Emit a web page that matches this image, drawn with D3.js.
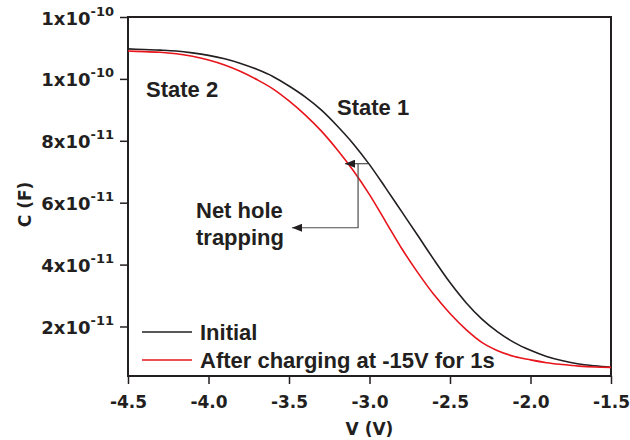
<!DOCTYPE html>
<html>
<head>
<meta charset="utf-8">
<script src="https://cdn.jsdelivr.net/npm/d3@7"></script>
<style>
  body { margin: 0; background: #fff; }
  svg text { font-family: "Liberation Sans", Arial, sans-serif; font-weight: bold; fill: #231f20; }
  svg text.axisText { font-family: "DejaVu Sans", sans-serif; }
</style>
</head>
<body>
<div id="chart"></div>
<script>
// values
var voltage = [-4.5, -4.4, -4.3, -4.2, -4.1, -4.0, -3.9, -3.8, -3.7, -3.6, -3.5,
               -3.4, -3.3, -3.2, -3.1, -3.0, -2.9, -2.8, -2.7, -2.6, -2.5,
               -2.4, -2.3, -2.2, -2.1, -2.0, -1.9, -1.8, -1.7, -1.6, -1.5];

var capInitial = [10.97e-11, 10.95e-11, 10.93e-11, 10.90e-11, 10.84e-11, 10.76e-11, 10.65e-11, 10.50e-11, 10.31e-11, 10.08e-11, 9.77e-11,
                  9.42e-11, 9.00e-11, 8.48e-11, 7.90e-11, 7.23e-11, 6.48e-11, 5.71e-11, 4.94e-11, 4.16e-11, 3.42e-11,
                  2.77e-11, 2.23e-11, 1.81e-11, 1.48e-11, 1.23e-11, 1.03e-11, 0.89e-11, 0.79e-11, 0.73e-11, 0.68e-11];

var capCharged = [10.90e-11, 10.88e-11, 10.86e-11, 10.81e-11, 10.73e-11, 10.61e-11, 10.45e-11, 10.24e-11, 9.98e-11, 9.68e-11, 9.29e-11,
                  8.84e-11, 8.32e-11, 7.71e-11, 7.03e-11, 6.26e-11, 5.39e-11, 4.52e-11, 3.74e-11, 3.03e-11, 2.42e-11,
                  1.90e-11, 1.48e-11, 1.21e-11, 1.03e-11, 0.92e-11, 0.83e-11, 0.77e-11, 0.72e-11, 0.69e-11, 0.68e-11];

var seriesNames = ["Initial", "After charging at -15V for 1s"];
var seriesColors = ["#231f20", "#e8141b"];

var xTickValues = [-4.5, -4.0, -3.5, -3.0, -2.5, -2.0, -1.5];
var yTickValues = [2e-11, 4e-11, 6e-11, 8e-11, 10e-11, 12e-11];
var yTickMantissa = ["2", "4", "6", "8", "1", "1"];
var yTickExponent = ["-11", "-11", "-11", "-11", "-10", "-10"];

// arrow annotation (V, C)
var shiftArrow = [[-3.009, 7.26e-11], [-3.152, 7.26e-11]];
var pointerLine = [[-3.071, 7.26e-11], [-3.071, 5.19e-11], [-3.481, 5.19e-11]];

var margin = {top: 17, right: 19, bottom: 64, left: 128},
    width = 630 - margin.left - margin.right,
    height = 440 - margin.top - margin.bottom;

var svg = d3.select("#chart").append("svg")
    .attr("width", width + margin.left + margin.right)
    .attr("height", height + margin.top + margin.bottom);

svg.append("defs").append("marker")
    .attr("id", "arrowHead")
    .attr("markerUnits", "userSpaceOnUse")
    .attr("markerWidth", 10)
    .attr("markerHeight", 8)
    .attr("refX", 10)
    .attr("refY", 4)
    .attr("orient", "auto")
  .append("path")
    .attr("d", "M0,0 L10,4 L0,8 Z")
    .attr("fill", "#231f20");

var g = svg.append("g")
    .attr("transform", "translate(" + margin.left + "," + margin.top + ")");

var x = d3.scaleLinear().domain([-4.5, -1.5]).range([0, width]);
var y = d3.scaleLinear().domain([0.4e-11, 12e-11]).range([height, 0]);

// axes
var xAxis = g.append("g")
    .attr("transform", "translate(0," + height + ")")
    .call(d3.axisBottom(x).tickValues(xTickValues).tickSize(8).tickSizeOuter(0)
      .tickFormat(function (d) { return d.toFixed(1); }));
xAxis.selectAll("text")
    .attr("class", "axisText")
    .attr("y", 32).attr("dy", 0)
    .style("font-size", "17px");

var yAxis = g.append("g")
    .call(d3.axisLeft(y).tickValues(yTickValues).tickSize(8).tickSizeOuter(0));
yAxis.selectAll(".tick text").each(function (d, i) {
  var t = d3.select(this).text(null)
      .attr("class", "axisText")
      .attr("x", -14).attr("dy", 0).attr("y", 7)
      .style("font-size", "18px");
  t.append("tspan").text(yTickMantissa[i] + "x10");
  t.append("tspan").text(yTickExponent[i])
      .attr("dy", -9)
      .style("font-size", "13px");
});

svg.selectAll(".domain").remove();
svg.selectAll(".tick line").attr("stroke", "#231f20").attr("stroke-width", 1.5);

// frame
g.append("rect")
    .attr("width", width).attr("height", height)
    .attr("fill", "none")
    .attr("stroke", "#231f20")
    .attr("stroke-width", 2);

// axis titles
svg.append("text")
    .attr("class", "axisText")
    .attr("x", margin.left + width / 2)
    .attr("y", 435)
    .attr("text-anchor", "middle")
    .style("font-size", "17px")
    .text("V (V)");

svg.append("text")
    .attr("class", "axisText")
    .attr("transform", "translate(31," + (margin.top + height / 2 + 8) + ") rotate(-90)")
    .attr("text-anchor", "middle")
    .style("font-size", "17px")
    .text("C (F)");

// curves
var line = d3.line()
    .x(function (d) { return x(d[0]); })
    .y(function (d) { return y(d[1]); })
    .curve(d3.curveMonotoneX);

[capInitial, capCharged].forEach(function (cap, k) {
  g.append("path")
    .datum(voltage.map(function (v, i) { return [v, cap[i]]; }))
    .attr("fill", "none")
    .attr("stroke", seriesColors[k])
    .attr("stroke-width", 1.6)
    .attr("d", line);
});

// annotation
var plain = d3.line()
    .x(function (d) { return x(d[0]); })
    .y(function (d) { return y(d[1]); });

g.append("path")
    .attr("d", plain(shiftArrow))
    .attr("fill", "none")
    .attr("stroke", "#4d4d4f")
    .attr("stroke-width", 1.2)
    .attr("marker-end", "url(#arrowHead)");

g.append("path")
    .attr("d", plain(pointerLine))
    .attr("fill", "none")
    .attr("stroke", "#4d4d4f")
    .attr("stroke-width", 1.2)
    .attr("marker-end", "url(#arrowHead)");

var labels = [
  {text: "State 2", x: 146, y: 97},
  {text: "State 1", x: 337, y: 115},
  {text: "Net hole", x: 196, y: 218},
  {text: "trapping", x: 196, y: 245}
];
svg.selectAll(".note")
  .data(labels)
  .enter().append("text")
    .attr("class", "note")
    .attr("x", function (d) { return d.x; })
    .attr("y", function (d) { return d.y; })
    .style("font-size", "22px")
    .text(function (d) { return d.text; });

// legend
var legend = svg.selectAll(".legend")
  .data(seriesNames)
  .enter().append("g")
    .attr("class", "legend")
    .attr("transform", function (d, i) { return "translate(142," + (332 + i * 28) + ")"; });

legend.append("line")
    .attr("x1", 0).attr("x2", 50)
    .attr("stroke", function (d, i) { return seriesColors[i]; })
    .attr("stroke-width", 1.6);

legend.append("text")
    .attr("x", 58)
    .attr("y", 8)
    .style("font-size", "22px")
    .text(function (d) { return d; });
</script>
</body>
</html>
